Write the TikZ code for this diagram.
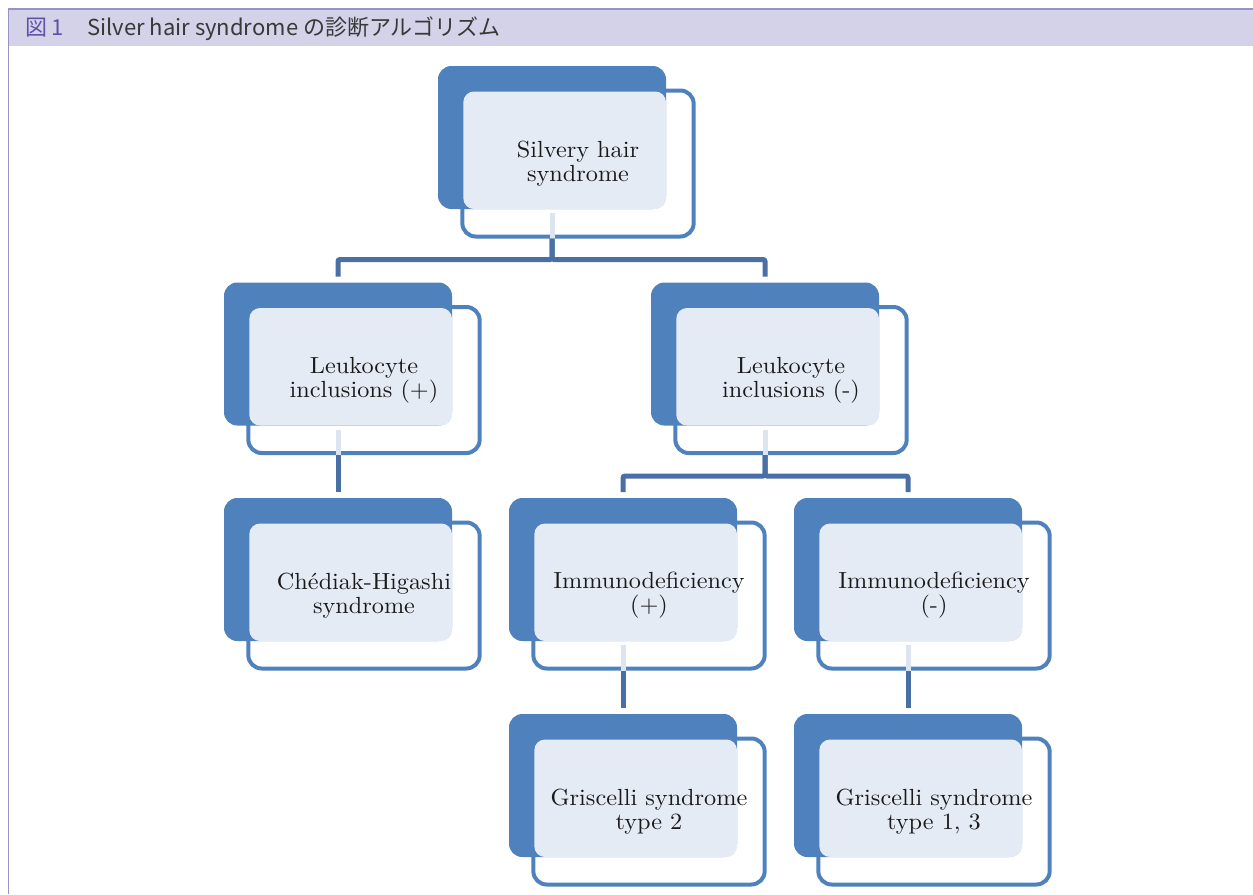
\documentclass[tikz,border=0pt]{standalone}
\usepackage{fontspec}
\newfontfamily\jpfont{Noto Sans CJK JP}
\newfontfamily\boxfont{lmroman10-regular.otf}[FakeStretch=1.04]
\definecolor{boxblue}{HTML}{4F81BD}
\definecolor{linkblue}{HTML}{4A6FA5}
\definecolor{lightbox}{HTML}{E5EBF5}
\definecolor{faintline}{HTML}{DCE4F0}
\definecolor{hdrband}{HTML}{D4D2E8}
\definecolor{hdrline}{HTML}{9A91C9}
\definecolor{hdrpurple}{HTML}{5D52A8}
\definecolor{hdrtext}{HTML}{383838}
\definecolor{boxtext}{HTML}{1A1A1A}

\begin{document}
\begin{tikzpicture}[x=0.75pt,y=-0.75pt,
	back/.style={fill=boxblue,rounded corners=10pt,minimum width=171pt,minimum height=107.25pt,inner sep=0pt,outer sep=0pt},
	front/.style={draw=boxblue,line width=3pt,rounded corners=10pt,minimum width=173.5pt,minimum height=109.5pt,inner sep=0pt},
	txt/.style={align=center,text=boxtext,font=\boxfont\fontsize{17.5}{18}\selectfont,inner sep=0pt},
	link/.style={draw=linkblue,line width=3.75pt,rounded corners=1.5pt},
	faint/.style={draw=faintline,line width=3.75pt}]
		\useasboundingbox (0,0) rectangle (1253,894);
		\fill[hdrband] (8,9) rectangle (1253,46);
		\draw[hdrline,line width=1.5pt] (8,9) -- (1253,9);
		\draw[hdrline,line width=0.75pt] (8.5,9) -- (8.5,894);
		\node[anchor=base west,inner sep=0pt,font=\jpfont\fontsize{16.5}{18}\selectfont,text=hdrtext] (title) at (25,35) {{\color{hdrpurple}図\hspace{3pt}1}\hspace{18pt}Silver hair syndrome の診断アルゴリズム};
		\foreach \n/\x/\y/\t in {hair/552/137.5/{Silvery hair\\syndrome},incp/338/354/{Leukocyte\\inclusions (+)},incn/765/354/{Leukocyte\\inclusions (-)},chs/338/569.5/{Chédiak-Higashi\\syndrome},imp/623/569.5/{Immunodeficiency\\(+)},imn/908/569.5/{Immunodeficiency\\(-)},gs2/623/785.5/{Griscelli syndrome\\type 2},gs13/908/785.5/{Griscelli syndrome\\type 1, 3}} {
			\node[back] (b\n) at (\x,\y) {};
			\node[front] (f\n) at ([shift={(19.5pt,-19.5pt)}]b\n.center) {};
			\fill[lightbox,rounded corners=8pt] ([shift={(2.25pt,-2.25pt)}]f\n.north west) rectangle (b\n.south east);
			\node[txt] (t\n) at (f\n) {\t};
		}
		\foreach \a in {hair,incp,incn,imp,imn} \draw[faint] ([yshift=-3pt]b\a.south) -- (f\a.south -| b\a.south);
		\foreach \a/\b in {hair/incp,hair/incn,incp/chs,incn/imp,incn/imn,imp/gs2,imn/gs13} \draw[link] (f\a.south -| b\a.south) -- ++(0,21) -| ([yshift=4.5pt]b\b.north);
	\end{tikzpicture}
\end{document}
